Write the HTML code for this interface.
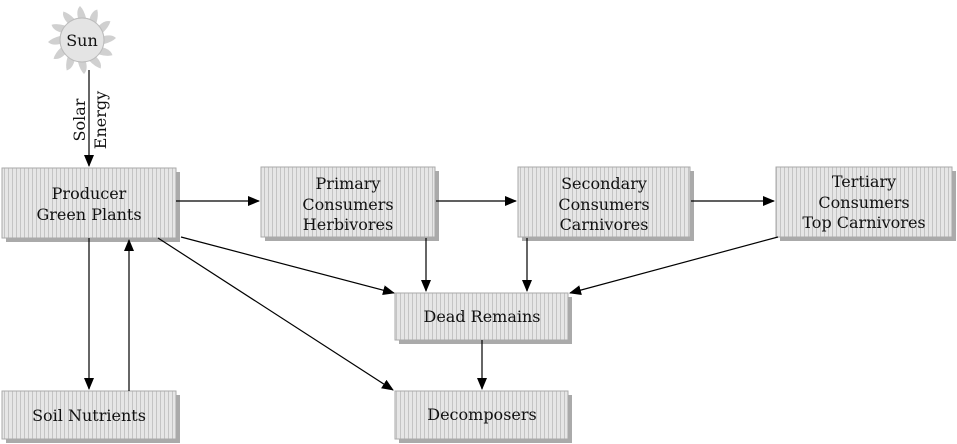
<!DOCTYPE html>
<html><head><style>body{margin:0;background:#fff}svg{display:block}text{font-family:"DejaVu Serif",serif;font-size:16px;fill:#111;text-anchor:middle}</style></head><body>
<svg width="957" height="444" viewBox="0 0 957 444">
<defs>
<pattern id="st" width="4" height="10" patternUnits="userSpaceOnUse"><rect width="4" height="10" fill="#e6e6e6"/><rect width="1" height="10" fill="#c4c4c4"/></pattern>
<marker id="a" markerWidth="12" markerHeight="10" refX="11" refY="5" orient="auto" markerUnits="userSpaceOnUse"><path d="M0,0L12,5L0,10z" fill="#000"/></marker>
</defs>
<g fill="#d0d0d0" transform="translate(82,40)">
<path d="M-4,-22 Q-6,-30 -2,-34 Q2,-30 4,-22z"/>
<path d="M-4,-22 Q-6,-30 -2,-34 Q2,-30 4,-22z" transform="rotate(30)"/>
<path d="M-4,-22 Q-6,-30 -2,-34 Q2,-30 4,-22z" transform="rotate(60)"/>
<path d="M-4,-22 Q-6,-30 -2,-34 Q2,-30 4,-22z" transform="rotate(90)"/>
<path d="M-4,-22 Q-6,-30 -2,-34 Q2,-30 4,-22z" transform="rotate(120)"/>
<path d="M-4,-22 Q-6,-30 -2,-34 Q2,-30 4,-22z" transform="rotate(150)"/>
<path d="M-4,-22 Q-6,-30 -2,-34 Q2,-30 4,-22z" transform="rotate(180)"/>
<path d="M-4,-22 Q-6,-30 -2,-34 Q2,-30 4,-22z" transform="rotate(210)"/>
<path d="M-4,-22 Q-6,-30 -2,-34 Q2,-30 4,-22z" transform="rotate(240)"/>
<path d="M-4,-22 Q-6,-30 -2,-34 Q2,-30 4,-22z" transform="rotate(270)"/>
<path d="M-4,-22 Q-6,-30 -2,-34 Q2,-30 4,-22z" transform="rotate(300)"/>
<path d="M-4,-22 Q-6,-30 -2,-34 Q2,-30 4,-22z" transform="rotate(330)"/>
<circle r="22" fill="#e4e4e4" stroke="#bbb"/>
</g>
<text x="82" y="46">Sun</text>
<g fill="#aaa">
<rect x="6" y="172" width="174" height="70"/><rect x="265" y="171" width="174" height="70"/><rect x="522" y="171" width="172" height="70"/><rect x="780" y="171" width="176" height="70"/>
<rect x="399" y="297" width="173" height="47"/><rect x="399" y="395" width="173" height="48"/><rect x="6" y="395" width="174" height="48"/>
</g>
<g fill="url(#st)" stroke="#aaa">
<rect x="2" y="168" width="174" height="70"/><rect x="261" y="167" width="174" height="70"/><rect x="518" y="167" width="172" height="70"/><rect x="776" y="167" width="176" height="70"/>
<rect x="395" y="293" width="173" height="47"/><rect x="395" y="391" width="173" height="48"/><rect x="2" y="391" width="174" height="48"/>
</g>
<text x="89" y="199">Producer</text><text x="89" y="220">Green Plants</text>
<text x="348" y="189">Primary</text><text x="348" y="210">Consumers</text><text x="348" y="230">Herbivores</text>
<text x="604" y="189">Secondary</text><text x="604" y="210">Consumers</text><text x="604" y="230">Carnivores</text>
<text x="864" y="187">Tertiary</text><text x="864" y="208">Consumers</text><text x="864" y="228">Top Carnivores</text>
<text x="482" y="322">Dead Remains</text><text x="482" y="420">Decomposers</text><text x="89" y="421">Soil Nutrients</text>
<text transform="translate(85,120) rotate(-90)">Solar</text>
<text transform="translate(106,120) rotate(-90)">Energy</text>
<g stroke="#000" stroke-width="1.2" marker-end="url(#a)">
<line x1="89" y1="70" x2="89" y2="166"/>
<line x1="176" y1="201" x2="259" y2="201"/>
<line x1="436" y1="201" x2="516" y2="201"/>
<line x1="691" y1="201" x2="774" y2="201"/>
<line x1="181" y1="237" x2="394" y2="293"/>
<line x1="426" y1="238" x2="426" y2="291"/>
<line x1="527" y1="238" x2="527" y2="291"/>
<line x1="778" y1="237" x2="570" y2="293"/>
<line x1="158" y1="238" x2="393" y2="390"/>
<line x1="482" y1="340" x2="482" y2="389"/>
<line x1="89" y1="238" x2="89" y2="389"/>
<line x1="129" y1="391" x2="129" y2="240"/>
</g>
</svg>
</body></html>
